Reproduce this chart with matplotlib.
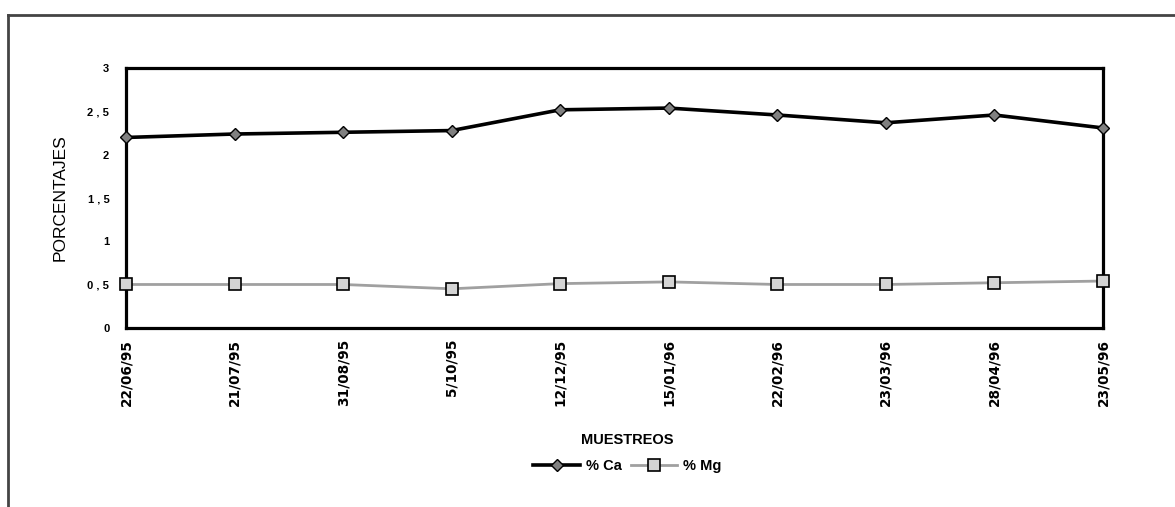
import matplotlib
matplotlib.use("Agg")
import matplotlib.pyplot as plt
from matplotlib.lines import Line2D

# Fechas de muestreo y porcentajes de calcio y magnesio
muestreos = ["22/06/95", "21/07/95", "31/08/95", "5/10/95", "12/12/95",
             "15/01/96", "22/02/96", "23/03/96", "28/04/96", "23/05/96"]
ca = [2.20, 2.24, 2.26, 2.28, 2.52, 2.54, 2.46, 2.37, 2.46, 2.31]
mg = [0.50, 0.50, 0.50, 0.45, 0.51, 0.53, 0.50, 0.50, 0.52, 0.54]

y_ticks = [0, 0.5, 1, 1.5, 2, 2.5, 3]
y_labels = ["0", "0 , 5", "1", "1 , 5", "2", "2 , 5", "3"]

plt.rcParams["font.family"] = ["Liberation Sans", "DejaVu Sans"]

fig = plt.figure(figsize=(11.75, 5.07), dpi=100)
ax = fig.add_axes([0.1072, 0.3536, 0.8315, 0.5117])

x = list(range(len(muestreos)))
ax.plot(x, ca, color="black", lw=2.6, marker="D", markersize=6,
        markerfacecolor="#808080", markeredgecolor="black", markeredgewidth=1.0,
        label="% Ca", zorder=3, clip_on=False)
ax.plot(x, mg, color="#a0a0a0", lw=2.0, marker="s", markersize=8,
        markerfacecolor="#d4d4d4", markeredgecolor="black", markeredgewidth=1.2,
        label="% Mg", zorder=3, clip_on=False)

ax.set_xlim(0, len(muestreos) - 1)
ax.set_ylim(0, 3)
ax.set_yticks(y_ticks)
ax.set_yticklabels(y_labels, fontsize=8, fontweight="bold")
ax.set_xticks(x)
ax.set_xticklabels(muestreos, rotation=90, fontsize=9.8, fontweight="bold",
                   family="DejaVu Sans", va="top", ha="center")
ax.tick_params(axis="both", length=0)
ax.tick_params(axis="y", pad=12)
ax.tick_params(axis="x", pad=8)

for s in ax.spines.values():
    s.set_linewidth(2.3)
    s.set_color("black")

ax.set_ylabel("PORCENTAJES", fontsize=12.5, labelpad=14)
fig.text(0.534, 0.132, "MUESTREOS", fontsize=10.5, fontweight="bold",
         ha="center", va="center")

leg = fig.legend(loc="center", bbox_to_anchor=(0.534, 0.081), ncol=2,
                 frameon=False, fontsize=10.5, handlelength=3.2,
                 handletextpad=0.4, columnspacing=0.6)
for t in leg.get_texts():
    t.set_fontweight("bold")

# marco exterior del gráfico (solo borde superior e izquierdo)
fig.add_artist(Line2D([0.0072, 0.0072], [0, 0.9704], transform=fig.transFigure,
                      color="#444444", lw=2.0))
fig.add_artist(Line2D([0.0072, 1.0], [0.9704, 0.9704], transform=fig.transFigure,
                      color="#444444", lw=2.0))

fig.savefig("out.png", dpi=100)
